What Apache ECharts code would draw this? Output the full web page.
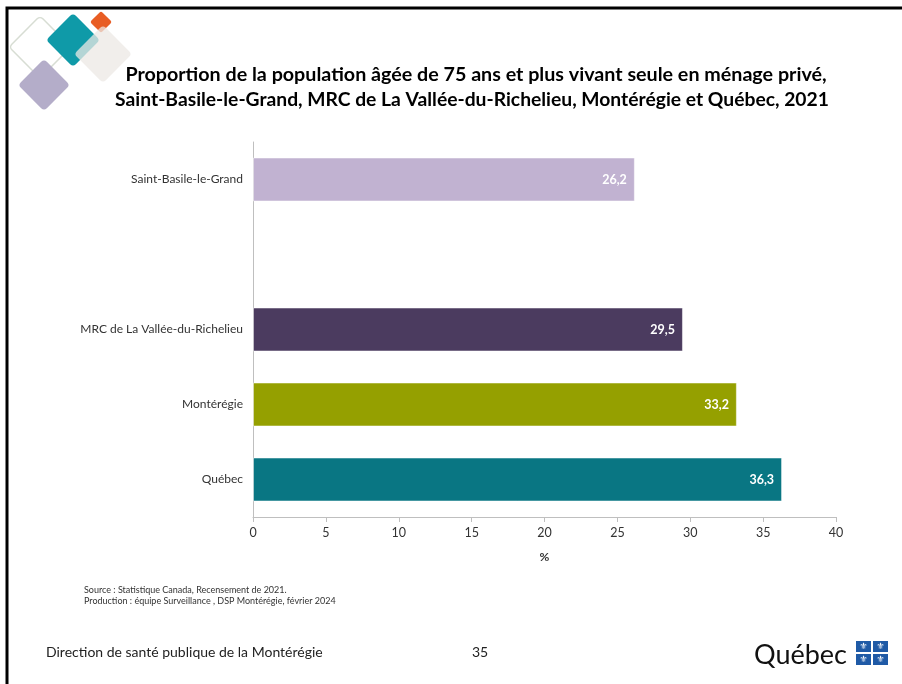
<!DOCTYPE html>
<html><head><meta charset="utf-8">
<script src="https://cdn.jsdelivr.net/npm/echarts@6/dist/echarts.min.js"></script>
<style>html,body{margin:0;padding:0;background:#fff}#c{width:902px;height:684px}</style>
</head><body><div id="c"></div>
<script>
const categories = ['Saint-Basile-le-Grand', '', 'MRC de La Vallée-du-Richelieu', 'Montérégie', 'Québec'];
const values = [26.2, null, 29.5, 33.2, 36.3];
const barColors = ['#c1b2d1', '#ffffff', '#4b3b5f', '#95a000', '#097683'];
const xTicks = [0, 5, 10, 15, 20, 25, 30, 35, 40];
const titleLines = ['Proportion de la population âgée de 75 ans et plus vivant seule en ménage privé,',
  'Saint-Basile-le-Grand, MRC de La Vallée-du-Richelieu, Montérégie et Québec, 2021'];
const sourceLines = ['Source : Statistique Canada, Recensement de 2021.',
  'Production : équipe Surveillance , DSP Montérégie, février 2024'];
const footerText = 'Direction de santé publique de la Montérégie';
const pageNumber = '35';

const F = 'Lato, "Open Sans", sans-serif';
function diamond(cx, cy, hd, fill, stroke, op, r) {
  const s = hd * Math.SQRT2;
  return { type: 'rect', x: cx, y: cy, rotation: Math.PI / 4,
    shape: { x: -s / 2, y: -s / 2, width: s, height: s, r: r },
    style: { fill: fill, stroke: stroke, lineWidth: stroke ? 1.5 : 0, opacity: op } };
}
const flags = [];
[[856, 641], [873, 641], [856, 654], [873, 654]].forEach(p => {
  flags.push({ type: 'rect', shape: { x: p[0], y: p[1], width: 15, height: 11 }, style: { fill: '#1f5aa6' } });
  flags.push({ type: 'text', x: p[0] + 7.5, y: p[1] + 5.5, style: { text: '⚜', fill: '#fff', font: '9px DejaVu Sans', align: 'center', verticalAlign: 'middle' } });
});

const chart = echarts.init(document.getElementById('c'), null, { renderer: 'canvas' });
chart.setOption({
  animation: false,
  backgroundColor: '#fff',
  grid: { left: 253, right: 66, top: 142, bottom: 167, containLabel: false },
  xAxis: {
    type: 'value', min: 0, max: 40, interval: 5,
    name: '%', nameLocation: 'middle', nameGap: 34,
    nameTextStyle: { fontFamily: F, fontSize: 12, fontWeight: 'bold', color: '#333' },
    axisLine: { show: true, lineStyle: { color: '#bfbfbf', width: 1 } },
    axisTick: { show: true, length: 5, lineStyle: { color: '#bfbfbf' } },
    axisLabel: { fontFamily: F, fontSize: 12.5, color: '#333', margin: 9,
      formatter: v => xTicks.includes(v) ? String(v) : '' },
    splitLine: { show: false }
  },
  yAxis: {
    type: 'category', data: categories, inverse: true,
    axisLine: { show: true, lineStyle: { color: '#bfbfbf', width: 1 } },
    axisTick: { show: false },
    axisLabel: { fontFamily: F, fontSize: 12, color: '#333', margin: 10 }
  },
  series: [{
    type: 'bar', barWidth: 44,
    data: values.map((v, i) => ({ value: v, itemStyle: { color: barColors[i], borderColor: 'rgba(255,255,255,0.5)', borderWidth: 1 } })),
    label: { show: true, position: 'insideRight', distance: 8, color: '#fff', fontFamily: F, fontSize: 12.5, fontWeight: 'bold',
      formatter: p => p.value == null ? '' : p.value.toFixed(1).replace('.', ',') }
  }],
  graphic: [
    { type: 'rect', shape: { x: 7, y: 8, width: 905, height: 690 }, style: { fill: 'none', stroke: '#000', lineWidth: 3 } },
    diamond(40, 47, 31, 'none', '#d7ddd3', 1, 4),
    diamond(73, 40, 27, '#0f9aa8', null, 1, 4),
    diamond(101, 22, 11, '#e85d24', null, 1, 2),
    diamond(103, 54, 29, 'rgba(236,232,228,0.75)', null, 1, 4),
    diamond(44, 85, 26, '#b4adc9', null, 1, 4),
    { type: 'text', x: 476, y: 75, style: { text: titleLines[0], font: 'bold 19.7px ' + F, fill: '#000', align: 'center', verticalAlign: 'middle' } },
    { type: 'text', x: 472, y: 100, style: { text: titleLines[1], font: 'bold 19.3px ' + F, fill: '#000', align: 'center', verticalAlign: 'middle' } },
    { type: 'text', x: 84, y: 590, style: { text: sourceLines[0], font: '9px ' + F, fill: '#333', verticalAlign: 'middle' } },
    { type: 'text', x: 84, y: 601, style: { text: sourceLines[1], font: '9px ' + F, fill: '#333', verticalAlign: 'middle' } },
    { type: 'text', x: 46, y: 652, style: { text: footerText, font: '14px ' + F, fill: '#222', verticalAlign: 'middle' } },
    { type: 'text', x: 480, y: 652, style: { text: pageNumber, font: '14px ' + F, fill: '#222', align: 'center', verticalAlign: 'middle' } },
    { type: 'text', x: 754, y: 655, style: { text: 'Québec', font: '27px ' + F, fill: '#111', verticalAlign: 'middle' } },
    ...flags
  ]
});
</script></body></html>
